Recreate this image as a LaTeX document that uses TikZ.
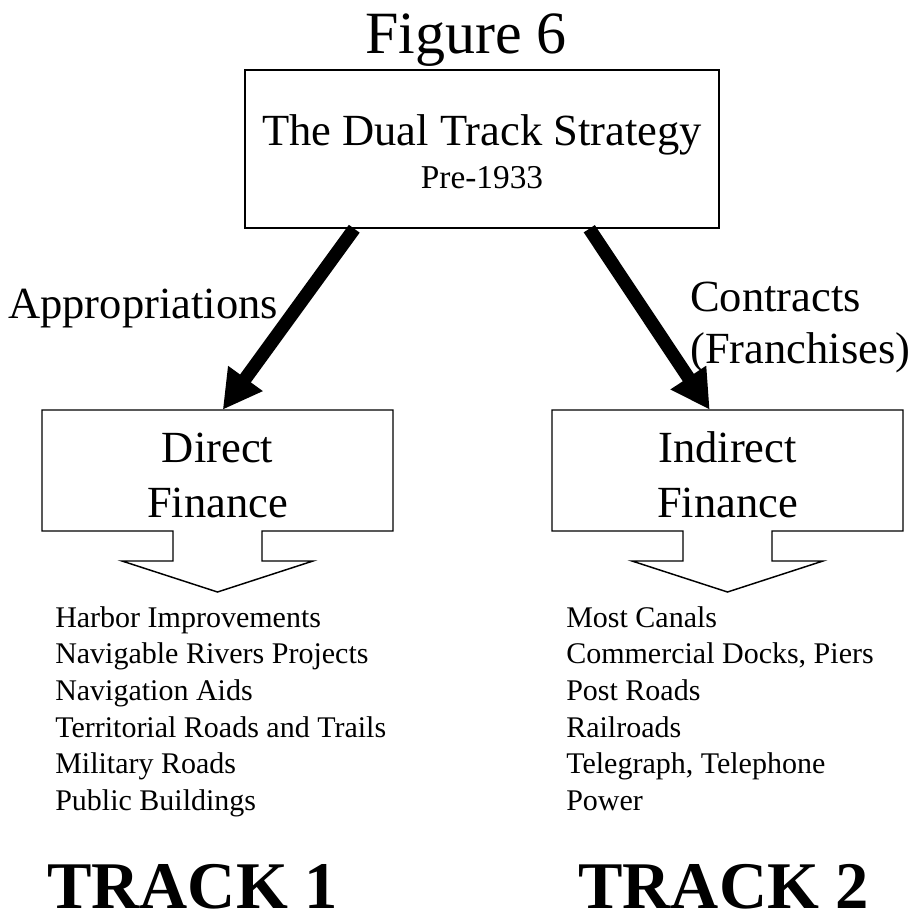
\documentclass[tikz,border=0pt]{standalone}
\usepackage{fontspec}
\setmainfont{Liberation Serif}
\usetikzlibrary{arrows.meta}
\begin{document}
\begin{tikzpicture}[x=0.75pt,y=-0.75pt,
  boxline/.style={line width=1.1pt},
  bigarrow/.style={line width=10pt,-{Triangle[length=29pt,width=30pt]}},
  txt/.style={inner sep=0pt,anchor=base},
  txtw/.style={inner sep=0pt,anchor=base west},
  bigfont/.style={font=\fontsize{33.4}{40}\selectfont},
  listfont/.style={font=\fontsize{22.5}{27.5}\selectfont},
  trackfont/.style={font=\fontsize{50}{60}\selectfont\bfseries}]
\useasboundingbox (0,0) rectangle (916,922);

% title
\node[txt,font=\fontsize{45}{54}\selectfont] (title) at (466,53) {Figure 6};

% top box
\node[boxline,draw,rectangle,inner sep=0pt,minimum width=355.5pt,minimum height=118.5pt] (top) at (482,149) {};
\node[txt,bigfont] (toptext) at (482,145) {The Dual Track Strategy};
\node[txt,font=\fontsize{25}{30}\selectfont] (pre) at (482,188) {Pre-1933};

% lower boxes (frames for reference)
\node[rectangle,inner sep=0pt,minimum width=263.25pt,minimum height=90.75pt] (direct) at (217.5,470.5) {};
\node[rectangle,inner sep=0pt,minimum width=263.25pt,minimum height=90.75pt] (indirect) at (727.5,470.5) {};

\draw[boxline,line join=miter] (42,410) -- (393,410) -- (393,531) -- (262,531) -- (262,561) -- (313,561)
  -- (217.5,592) -- (122,561) -- (173,561) -- (173,531) -- (42,531) -- cycle;
\draw[boxline,line join=miter] (552,410) -- (903,410) -- (903,531) -- (772,531) -- (772,561) -- (823,561)
  -- (727.5,592) -- (632,561) -- (683,561) -- (683,531) -- (552,531) -- cycle;

\node[txt,bigfont] (dtext1) at (217.5,462) {Direct};
\node[txt,bigfont] (dtext2) at (217.5,517) {Finance};
\node[txt,bigfont] (itext1) at (727.5,462) {Indirect};
\node[txt,bigfont] (itext2) at (727.5,517) {Finance};

% connectors
\path (top.south west) ++(110,0) coordinate (s1);
\path (top.south west) ++(345,0) coordinate (s2);
\path (direct.north west) ++(181,0) coordinate (e1);
\path (indirect.north west) ++(158,0) coordinate (e2);
\draw[bigarrow] (s1) -- (e1);
\draw[bigarrow] (s2) -- (e2);

% labels
\node[txtw,bigfont] (appr) at (8,318) {Appropriations};
\node[txtw,bigfont] (contr) at (690,311) {Contracts};
\node[txtw,bigfont] (franch) at (690,363) {(Franchises)};

% lists
\foreach \t [count=\i] in {Harbor Improvements, Navigable Rivers Projects, Navigation Aids,
  Territorial Roads and Trails, Military Roads, Public Buildings}
  \node[txtw,listfont] (L\i) at (55,{627+(\i-1)*36.7}) {\t};
\foreach \t [count=\i] in {Most Canals, {Commercial Docks, Piers}, Post Roads, Railroads,
  {Telegraph, Telephone}, Power}
  \node[txtw,listfont] (R\i) at (566,{627+(\i-1)*36.7}) {\t};

% track labels
\node[txtw,trackfont] (track1) at (47,908) {TRACK 1};
\node[txtw,trackfont] (track2) at (578,908) {TRACK 2};
\end{tikzpicture}
\end{document}
